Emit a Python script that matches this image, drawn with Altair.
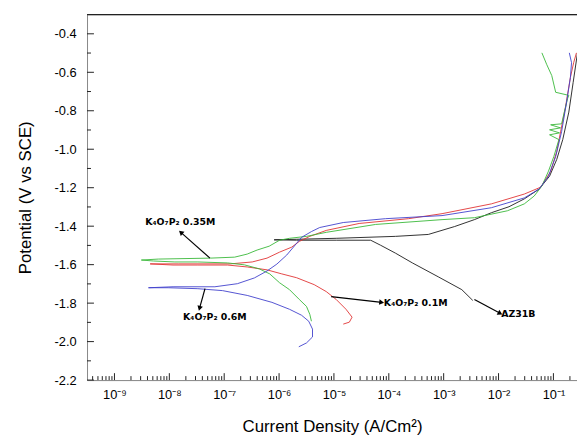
import math
import altair as alt
import pandas as pd

# ---------------- data (current density A/cm2, potential V vs SCE) ----------------
az_i = [3.39e-3, 2.14e-3, 7.94e-4, 2.69e-4, 1.32e-4, 7.08e-5, 4.68e-5, 1.10e-5, 2.09e-6, 8.13e-7,
        2.09e-6, 1.10e-5, 1.32e-4, 5.25e-4, 1.58e-3, 3.63e-3, 7.41e-3, 1.55e-2, 2.95e-2, 5.50e-2,
        8.51e-2, 0.115, 0.148, 0.191, 0.229, 0.275]
az_v = [-1.786, -1.730, -1.663, -1.591, -1.540, -1.499, -1.473, -1.473, -1.473, -1.471,
        -1.468, -1.463, -1.453, -1.443, -1.402, -1.366, -1.330, -1.299, -1.258, -1.207,
        -1.140, -1.053, -0.950, -0.807, -0.653, -0.499]

m01_i = [1.48e-5, 1.91e-5, 2.14e-5, 1.66e-5, 1.10e-5, 7.24e-6, 4.37e-6, 2.09e-6, 1.12e-6, 6.03e-7,
         2.63e-7, 1.15e-7, 3.31e-8, 1.17e-8, 4.47e-9,
         1.45e-8, 1.29e-7, 3.24e-7, 6.03e-7, 1.02e-6, 1.70e-6, 2.34e-6, 3.63e-6, 7.24e-6, 2.88e-5,
         2.29e-4, 9.33e-4, 7.41e-3, 2.95e-2, 5.89e-2, 8.91e-2, 0.115, 0.135, 0.166, 0.204, 0.234, 0.263]
m01_v = [-1.909, -1.899, -1.873, -1.832, -1.781, -1.740, -1.704, -1.668, -1.648, -1.627,
         -1.612, -1.602, -1.602, -1.602, -1.596,
         -1.596, -1.596, -1.586, -1.566, -1.535, -1.509, -1.479, -1.453, -1.422, -1.386,
         -1.361, -1.335, -1.284, -1.233, -1.197, -1.115, -1.012, -0.910, -0.781, -0.627, -0.550, -0.499]

m035_i = [3.89e-6, 3.63e-6, 3.16e-6, 2.34e-6, 1.55e-6, 1.02e-6, 6.76e-7, 4.37e-7, 2.34e-7, 1.15e-7,
          3.31e-8, 1.26e-8, 5.13e-9, 3.09e-9,
          6.31e-9, 5.62e-8, 1.55e-7, 2.63e-7, 3.98e-7, 6.61e-7, 1.02e-6, 1.55e-6, 3.16e-6, 7.24e-6,
          5.75e-5, 9.33e-4, 3.63e-3, 1.45e-2, 2.95e-2, 4.47e-2, 6.17e-2, 8.13e-2, 0.102, 0.126,
          0.0851, 0.129, 0.0851, 0.135, 0.0891, 0.141,
          0.158, 0.182, 0.191, 0.110, 0.0933, 0.0759, 0.0617]
m035_v = [-1.894, -1.858, -1.817, -1.781, -1.730, -1.694, -1.648, -1.622, -1.601, -1.591,
          -1.586, -1.586, -1.581, -1.576,
          -1.571, -1.566, -1.561, -1.545, -1.524, -1.504, -1.473, -1.463, -1.453, -1.432,
          -1.391, -1.366, -1.356, -1.320, -1.284, -1.243, -1.191, -1.114, -1.037, -0.950,
          -0.925, -0.915, -0.899, -0.889, -0.873, -0.868,
          -0.807, -0.735, -0.720, -0.704, -0.617, -0.561, -0.499]

m06_i = [2.29e-6, 3.16e-6, 4.07e-6, 4.07e-6, 3.47e-6, 2.57e-6, 1.55e-6, 7.41e-7, 2.63e-7, 9.33e-8,
         3.31e-8, 9.55e-9, 4.17e-9,
         1.17e-8, 6.76e-8, 1.74e-7, 3.55e-7, 6.03e-7, 9.12e-7, 1.38e-6, 2.09e-6, 2.57e-6, 3.89e-6,
         5.50e-6, 1.48e-5, 8.71e-5, 9.33e-4, 7.41e-3, 2.95e-2, 5.50e-2, 8.13e-2, 0.110, 0.141,
         0.174, 0.204, 0.214, 0.195]
m06_v = [-2.027, -2.007, -1.976, -1.935, -1.894, -1.863, -1.832, -1.796, -1.760, -1.735,
         -1.725, -1.720, -1.720,
         -1.715, -1.715, -1.699, -1.669, -1.633, -1.597, -1.550, -1.489, -1.458, -1.428,
         -1.407, -1.381, -1.361, -1.345, -1.304, -1.253, -1.207, -1.140, -1.038, -0.909,
         -0.755, -0.627, -0.550, -0.499]

series_names = ["AZ31B", "K4O7P2 0.1M", "K4O7P2 0.35M", "K4O7P2 0.6M"]
series_colors = ["#1a1a1a", "#e03333", "#38b838", "#4040cc"]

# annotations
label_text = ["K₄O₇P₂ 0.35M", "K₄O₇P₂ 0.6M", "K₄O₇P₂ 0.1M", "AZ31B"]
label_i = [3.63e-9, 1.78e-8, 8.13e-5, 1.12e-2]
label_v = [-1.376, -1.873, -1.802, -1.858]
arrow_start_i = [5.50e-8, 4.47e-8, 8.91e-6, 3.63e-3]
arrow_start_v = [-1.566, -1.725, -1.766, -1.781]
arrow_end_i = [1.62e-8, 3.55e-8, 7.41e-5, 1.07e-2]
arrow_end_v = [-1.432, -1.827, -1.796, -1.853]

x_tick_labels = ["10⁻⁹", "10⁻⁸", "10⁻⁷", "10⁻⁶", "10⁻⁵", "10⁻⁴", "10⁻³", "10⁻²", "10⁻¹"]

# ---------------- layout ----------------
W, H = 496, 370
X_MIN, X_MAX = 10 ** -9.5, 10 ** -0.57
Y_MIN, Y_MAX = -2.2, -0.3
px_dec = W / (math.log10(X_MAX) - math.log10(X_MIN))
px_volt = H / (Y_MAX - Y_MIN)

rows = []
for name, xs, ys in zip(series_names, [az_i, m01_i, m035_i, m06_i], [az_v, m01_v, m035_v, m06_v]):
    for k, (a, b) in enumerate(zip(xs, ys)):
        rows.append({"series": name, "idx": k, "I": a, "E": b})
curves = pd.DataFrame(rows)

arows = []
heads = []
for k in range(len(arrow_start_i)):
    arows.append({"a": k, "o": 0, "I": arrow_start_i[k], "E": arrow_start_v[k]})
    arows.append({"a": k, "o": 1, "I": arrow_end_i[k], "E": arrow_end_v[k]})
    dx = (math.log10(arrow_end_i[k]) - math.log10(arrow_start_i[k])) * px_dec
    dy = -(arrow_end_v[k] - arrow_start_v[k]) * px_volt
    ang = math.degrees(math.atan2(dx, -dy)) % 360
    heads.append({"I": arrow_end_i[k], "E": arrow_end_v[k], "ang": ang})
arrows = pd.DataFrame(arows)
heads = pd.DataFrame(heads)
labels = pd.DataFrame({"I": label_i, "E": label_v, "t": label_text})

decades = [10.0 ** n for n in range(-9, 0)]
minor_x = [k * 10.0 ** n for n in range(-10, 0) for k in range(2, 10)
           if X_MIN <= k * 10.0 ** n <= X_MAX]
major_y = [round(-2.2 + 0.2 * k, 1) for k in range(10)]
minor_y = [round(-2.1 + 0.2 * k, 1) for k in range(9)]

xscale = alt.Scale(type="log", domain=[X_MIN, X_MAX], nice=False)
yscale = alt.Scale(domain=[Y_MIN, Y_MAX], nice=False, zero=False)

label_expr = "[" + ",".join("'%s'" % s for s in x_tick_labels) + "][round(log(datum.value)/LN10)+9]"

x_enc = alt.X("I:Q", scale=xscale, title="Current Density (A/Cm²)",
              axis=alt.Axis(values=decades, labelExpr=label_expr, ticks=False, grid=False,
                            labelPadding=9, titlePadding=17, labelFontSize=13, titleFontSize=17,
                            titleFontWeight="normal", labelFlush=False))
y_enc = alt.Y("E:Q", scale=yscale, title="Potential (V vs SCE)",
              axis=alt.Axis(values=major_y, labelExpr="'-' + format(abs(datum.value), '.1f')",
                            ticks=False, grid=False, labelPadding=11, titlePadding=20,
                            labelFontSize=13, titleFontSize=17, titleFontWeight="normal",
                            labelFlush=False))

lines = alt.Chart(curves).mark_line(strokeWidth=0.9, clip=True).encode(
    x=x_enc, y=y_enc,
    color=alt.Color("series:N", scale=alt.Scale(domain=series_names, range=series_colors), legend=None),
    order="idx:Q",
)

arrow_lines = alt.Chart(arrows).mark_line(color="black", strokeWidth=1.2).encode(
    x=alt.X("I:Q", scale=xscale), y=alt.Y("E:Q", scale=yscale), detail="a:N", order="o:Q")

arrow_heads = alt.Chart(heads).mark_point(shape="triangle-up", filled=True, color="black",
                                          size=32, opacity=1).encode(
    x=alt.X("I:Q", scale=xscale), y=alt.Y("E:Q", scale=yscale), angle=alt.Angle("ang:Q", scale=None))

texts = alt.Chart(labels).mark_text(align="left", baseline="middle", fontSize=9.5, fontWeight="bold",
                                    font="DejaVu Sans", color="black").encode(
    x=alt.X("I:Q", scale=xscale), y=alt.Y("E:Q", scale=yscale), text="t:N")

top_rule = alt.Chart(pd.DataFrame({"E": [Y_MAX]})).mark_rule(color="#222", strokeWidth=1.3).encode(
    y=alt.Y("E:Q", scale=yscale))

xt_major = alt.Chart(pd.DataFrame({"I": decades})).mark_rule(color="#222", strokeWidth=1).encode(
    x=alt.X("I:Q", scale=xscale), y=alt.value(H), y2=alt.value(H - 7))
xt_minor = alt.Chart(pd.DataFrame({"I": minor_x})).mark_rule(color="#222", strokeWidth=1).encode(
    x=alt.X("I:Q", scale=xscale), y=alt.value(H), y2=alt.value(H - 4))
yt_major = alt.Chart(pd.DataFrame({"E": major_y})).mark_rule(color="#222", strokeWidth=1).encode(
    y=alt.Y("E:Q", scale=yscale), x=alt.value(0), x2=alt.value(7))
yt_minor = alt.Chart(pd.DataFrame({"E": minor_y})).mark_rule(color="#222", strokeWidth=1).encode(
    y=alt.Y("E:Q", scale=yscale), x=alt.value(0), x2=alt.value(4))

chart = alt.layer(
    lines, xt_major, xt_minor, yt_major, yt_minor, top_rule, arrow_lines, arrow_heads, texts
).properties(
    width=W, height=H,
    autosize=alt.AutoSizeParams(type="none"),
    padding={"left": 80, "top": 4, "right": 0, "bottom": 57},
).configure_view(stroke=None).configure_axis(
    domainColor="#222", domainWidth=1.3, labelColor="#222", titleColor="#222",
    labelFont="Liberation Sans", titleFont="Liberation Sans", titleFontWeight="normal",
).configure(background="white")

chart.save("out.html", embed_options={"renderer": "svg", "actions": False})
